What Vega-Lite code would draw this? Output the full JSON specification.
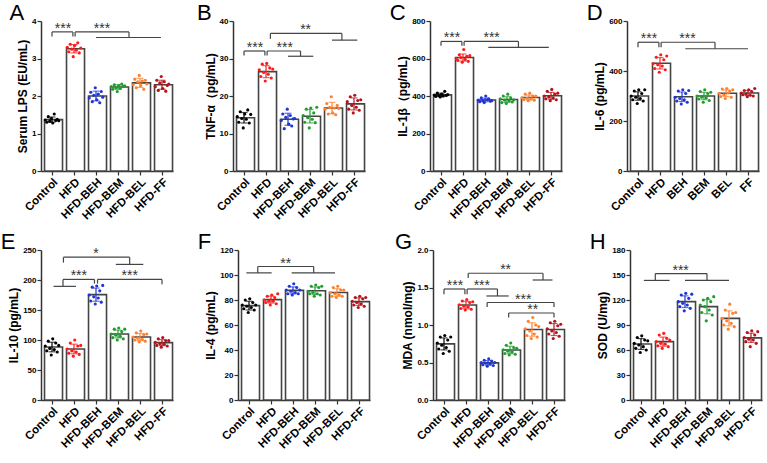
{
"$schema": "https://vega.github.io/schema/vega-lite/v6.json",
"padding": {"left": 0, "top": 2, "right": 2, "bottom": 2},
"spacing": 9,
"vconcat": [
{"hconcat": [
{"title": "A", "width": 132, "height": 150,
 "layer": [
  {"layer": [
   {"data": {"name": "summary"}, "transform": [{"filter": "datum.p=='A'"}], "mark": {"type": "bar", "fill": "#ffffff", "stroke": "#444444", "strokeWidth": 1.6},
    "encoding": {"x": {"field": "g", "type": "nominal", "sort": ["Control","HFD","HFD-BEH","HFD-BEM","HFD-BEL","HFD-FF"], "scale": {"paddingInner": 0.32, "paddingOuter": 0.16}, "axis": {"title": null}},
     "y": {"field": "m", "type": "quantitative", "title": "Serum LPS (EU/mL)", "scale": {"domain": [0, 4], "nice": false}, "axis": {"values": [0,1,2,3,4], "labelOverlap": false}}}},
   {"data": {"name": "points"}, "transform": [{"filter": "datum.p=='A'"}], "mark": {"type": "circle", "size": 10, "opacity": 1},
    "encoding": {"x": {"field": "g", "type": "nominal", "sort": ["Control","HFD","HFD-BEH","HFD-BEM","HFD-BEL","HFD-FF"]}, "xOffset": {"field": "i", "type": "ordinal"}, "y": {"field": "v", "type": "quantitative", "title": "Serum LPS (EU/mL)", "axis": {"values": [0,1,2,3,4], "labelOverlap": false}},
     "color": {"field": "g", "type": "nominal", "legend": null, "scale": {"domain": ["Control","HFD","HFD-BEH","HFD-BEM","HFD-BEL","HFD-FF","BEH","BEM","BEL","FF"], "range": ["#000000","#ff1a1a","#1f35d6","#1f9e2e","#ff8030","#b5121b","#1f35d6","#1f9e2e","#ff8030","#b5121b"]}}}},
   {"data": {"name": "summary"}, "transform": [{"filter": "datum.p=='A'"}], "mark": {"type": "errorbar", "ticks": {"size": 7}, "thickness": 1.2},
    "encoding": {"x": {"field": "g", "type": "nominal", "sort": ["Control","HFD","HFD-BEH","HFD-BEM","HFD-BEL","HFD-FF"]}, "y": {"field": "m", "type": "quantitative", "title": "Serum LPS (EU/mL)", "axis": {"values": [0,1,2,3,4], "labelOverlap": false}}, "yError": {"field": "sd"},
     "color": {"field": "g", "type": "nominal", "legend": null}}}
  ]},
  {"layer": [
   {"data": {"name": "brk"}, "transform": [{"filter": "datum.p=='A'"}], "mark": {"type": "rule", "color": "#444444", "strokeWidth": 1.2},
    "encoding": {"x": {"field": "x", "type": "quantitative", "scale": {"domain": [-0.5, 5.5], "nice": false, "zero": false}, "axis": null}, "x2": {"field": "x2"}, "y": {"field": "y", "type": "quantitative", "title": "Serum LPS (EU/mL)", "axis": {"values": [0,1,2,3,4], "labelOverlap": false}}, "y2": {"field": "y2"}}},
   {"data": {"name": "txt"}, "transform": [{"filter": "datum.p=='A'"}], "mark": {"type": "text", "fontSize": 14, "baseline": "alphabetic", "dy": 1, "color": "#333333"},
    "encoding": {"x": {"field": "x", "type": "quantitative", "scale": {"domain": [-0.5, 5.5], "nice": false, "zero": false}, "axis": null}, "y": {"field": "y", "type": "quantitative", "title": "Serum LPS (EU/mL)", "axis": {"values": [0,1,2,3,4], "labelOverlap": false}}, "text": {"field": "t"}}}
  ]}
 ],
 "resolve": {"scale": {"x": "independent"}}},
{"title": "B", "width": 132, "height": 150,
 "layer": [
  {"layer": [
   {"data": {"name": "summary"}, "transform": [{"filter": "datum.p=='B'"}], "mark": {"type": "bar", "fill": "#ffffff", "stroke": "#444444", "strokeWidth": 1.6},
    "encoding": {"x": {"field": "g", "type": "nominal", "sort": ["Control","HFD","HFD-BEH","HFD-BEM","HFD-BEL","HFD-FF"], "scale": {"paddingInner": 0.32, "paddingOuter": 0.16}, "axis": {"title": null}},
     "y": {"field": "m", "type": "quantitative", "title": "TNF-α（pg/mL)", "scale": {"domain": [0, 40], "nice": false}, "axis": {"values": [0,10,20,30,40], "labelOverlap": false}}}},
   {"data": {"name": "points"}, "transform": [{"filter": "datum.p=='B'"}], "mark": {"type": "circle", "size": 10, "opacity": 1},
    "encoding": {"x": {"field": "g", "type": "nominal", "sort": ["Control","HFD","HFD-BEH","HFD-BEM","HFD-BEL","HFD-FF"]}, "xOffset": {"field": "i", "type": "ordinal"}, "y": {"field": "v", "type": "quantitative", "title": "TNF-α（pg/mL)", "axis": {"values": [0,10,20,30,40], "labelOverlap": false}},
     "color": {"field": "g", "type": "nominal", "legend": null, "scale": {"domain": ["Control","HFD","HFD-BEH","HFD-BEM","HFD-BEL","HFD-FF","BEH","BEM","BEL","FF"], "range": ["#000000","#ff1a1a","#1f35d6","#1f9e2e","#ff8030","#b5121b","#1f35d6","#1f9e2e","#ff8030","#b5121b"]}}}},
   {"data": {"name": "summary"}, "transform": [{"filter": "datum.p=='B'"}], "mark": {"type": "errorbar", "ticks": {"size": 7}, "thickness": 1.2},
    "encoding": {"x": {"field": "g", "type": "nominal", "sort": ["Control","HFD","HFD-BEH","HFD-BEM","HFD-BEL","HFD-FF"]}, "y": {"field": "m", "type": "quantitative", "title": "TNF-α（pg/mL)", "axis": {"values": [0,10,20,30,40], "labelOverlap": false}}, "yError": {"field": "sd"},
     "color": {"field": "g", "type": "nominal", "legend": null}}}
  ]},
  {"layer": [
   {"data": {"name": "brk"}, "transform": [{"filter": "datum.p=='B'"}], "mark": {"type": "rule", "color": "#444444", "strokeWidth": 1.2},
    "encoding": {"x": {"field": "x", "type": "quantitative", "scale": {"domain": [-0.5, 5.5], "nice": false, "zero": false}, "axis": null}, "x2": {"field": "x2"}, "y": {"field": "y", "type": "quantitative", "title": "TNF-α（pg/mL)", "axis": {"values": [0,10,20,30,40], "labelOverlap": false}}, "y2": {"field": "y2"}}},
   {"data": {"name": "txt"}, "transform": [{"filter": "datum.p=='B'"}], "mark": {"type": "text", "fontSize": 14, "baseline": "alphabetic", "dy": 1, "color": "#333333"},
    "encoding": {"x": {"field": "x", "type": "quantitative", "scale": {"domain": [-0.5, 5.5], "nice": false, "zero": false}, "axis": null}, "y": {"field": "y", "type": "quantitative", "title": "TNF-α（pg/mL)", "axis": {"values": [0,10,20,30,40], "labelOverlap": false}}, "text": {"field": "t"}}}
  ]}
 ],
 "resolve": {"scale": {"x": "independent"}}},
{"title": "C", "width": 132, "height": 150,
 "layer": [
  {"layer": [
   {"data": {"name": "summary"}, "transform": [{"filter": "datum.p=='C'"}], "mark": {"type": "bar", "fill": "#ffffff", "stroke": "#444444", "strokeWidth": 1.6},
    "encoding": {"x": {"field": "g", "type": "nominal", "sort": ["Control","HFD","HFD-BEH","HFD-BEM","HFD-BEL","HFD-FF"], "scale": {"paddingInner": 0.32, "paddingOuter": 0.16}, "axis": {"title": null}},
     "y": {"field": "m", "type": "quantitative", "title": "IL-1β（pg/mL)", "scale": {"domain": [0, 800], "nice": false}, "axis": {"values": [0,200,400,600,800], "labelOverlap": false}}}},
   {"data": {"name": "points"}, "transform": [{"filter": "datum.p=='C'"}], "mark": {"type": "circle", "size": 10, "opacity": 1},
    "encoding": {"x": {"field": "g", "type": "nominal", "sort": ["Control","HFD","HFD-BEH","HFD-BEM","HFD-BEL","HFD-FF"]}, "xOffset": {"field": "i", "type": "ordinal"}, "y": {"field": "v", "type": "quantitative", "title": "IL-1β（pg/mL)", "axis": {"values": [0,200,400,600,800], "labelOverlap": false}},
     "color": {"field": "g", "type": "nominal", "legend": null, "scale": {"domain": ["Control","HFD","HFD-BEH","HFD-BEM","HFD-BEL","HFD-FF","BEH","BEM","BEL","FF"], "range": ["#000000","#ff1a1a","#1f35d6","#1f9e2e","#ff8030","#b5121b","#1f35d6","#1f9e2e","#ff8030","#b5121b"]}}}},
   {"data": {"name": "summary"}, "transform": [{"filter": "datum.p=='C'"}], "mark": {"type": "errorbar", "ticks": {"size": 7}, "thickness": 1.2},
    "encoding": {"x": {"field": "g", "type": "nominal", "sort": ["Control","HFD","HFD-BEH","HFD-BEM","HFD-BEL","HFD-FF"]}, "y": {"field": "m", "type": "quantitative", "title": "IL-1β（pg/mL)", "axis": {"values": [0,200,400,600,800], "labelOverlap": false}}, "yError": {"field": "sd"},
     "color": {"field": "g", "type": "nominal", "legend": null}}}
  ]},
  {"layer": [
   {"data": {"name": "brk"}, "transform": [{"filter": "datum.p=='C'"}], "mark": {"type": "rule", "color": "#444444", "strokeWidth": 1.2},
    "encoding": {"x": {"field": "x", "type": "quantitative", "scale": {"domain": [-0.5, 5.5], "nice": false, "zero": false}, "axis": null}, "x2": {"field": "x2"}, "y": {"field": "y", "type": "quantitative", "title": "IL-1β（pg/mL)", "axis": {"values": [0,200,400,600,800], "labelOverlap": false}}, "y2": {"field": "y2"}}},
   {"data": {"name": "txt"}, "transform": [{"filter": "datum.p=='C'"}], "mark": {"type": "text", "fontSize": 14, "baseline": "alphabetic", "dy": 1, "color": "#333333"},
    "encoding": {"x": {"field": "x", "type": "quantitative", "scale": {"domain": [-0.5, 5.5], "nice": false, "zero": false}, "axis": null}, "y": {"field": "y", "type": "quantitative", "title": "IL-1β（pg/mL)", "axis": {"values": [0,200,400,600,800], "labelOverlap": false}}, "text": {"field": "t"}}}
  ]}
 ],
 "resolve": {"scale": {"x": "independent"}}},
{"title": "D", "width": 132, "height": 150,
 "layer": [
  {"layer": [
   {"data": {"name": "summary"}, "transform": [{"filter": "datum.p=='D'"}], "mark": {"type": "bar", "fill": "#ffffff", "stroke": "#444444", "strokeWidth": 1.6},
    "encoding": {"x": {"field": "g", "type": "nominal", "sort": ["Control","HFD","BEH","BEM","BEL","FF"], "scale": {"paddingInner": 0.32, "paddingOuter": 0.16}, "axis": {"title": null}},
     "y": {"field": "m", "type": "quantitative", "title": "IL-6 (pg/mL)", "scale": {"domain": [0, 600], "nice": false}, "axis": {"values": [0,200,400,600], "labelOverlap": false}}}},
   {"data": {"name": "points"}, "transform": [{"filter": "datum.p=='D'"}], "mark": {"type": "circle", "size": 10, "opacity": 1},
    "encoding": {"x": {"field": "g", "type": "nominal", "sort": ["Control","HFD","BEH","BEM","BEL","FF"]}, "xOffset": {"field": "i", "type": "ordinal"}, "y": {"field": "v", "type": "quantitative", "title": "IL-6 (pg/mL)", "axis": {"values": [0,200,400,600], "labelOverlap": false}},
     "color": {"field": "g", "type": "nominal", "legend": null, "scale": {"domain": ["Control","HFD","HFD-BEH","HFD-BEM","HFD-BEL","HFD-FF","BEH","BEM","BEL","FF"], "range": ["#000000","#ff1a1a","#1f35d6","#1f9e2e","#ff8030","#b5121b","#1f35d6","#1f9e2e","#ff8030","#b5121b"]}}}},
   {"data": {"name": "summary"}, "transform": [{"filter": "datum.p=='D'"}], "mark": {"type": "errorbar", "ticks": {"size": 7}, "thickness": 1.2},
    "encoding": {"x": {"field": "g", "type": "nominal", "sort": ["Control","HFD","BEH","BEM","BEL","FF"]}, "y": {"field": "m", "type": "quantitative", "title": "IL-6 (pg/mL)", "axis": {"values": [0,200,400,600], "labelOverlap": false}}, "yError": {"field": "sd"},
     "color": {"field": "g", "type": "nominal", "legend": null}}}
  ]},
  {"layer": [
   {"data": {"name": "brk"}, "transform": [{"filter": "datum.p=='D'"}], "mark": {"type": "rule", "color": "#444444", "strokeWidth": 1.2},
    "encoding": {"x": {"field": "x", "type": "quantitative", "scale": {"domain": [-0.5, 5.5], "nice": false, "zero": false}, "axis": null}, "x2": {"field": "x2"}, "y": {"field": "y", "type": "quantitative", "title": "IL-6 (pg/mL)", "axis": {"values": [0,200,400,600], "labelOverlap": false}}, "y2": {"field": "y2"}}},
   {"data": {"name": "txt"}, "transform": [{"filter": "datum.p=='D'"}], "mark": {"type": "text", "fontSize": 14, "baseline": "alphabetic", "dy": 1, "color": "#333333"},
    "encoding": {"x": {"field": "x", "type": "quantitative", "scale": {"domain": [-0.5, 5.5], "nice": false, "zero": false}, "axis": null}, "y": {"field": "y", "type": "quantitative", "title": "IL-6 (pg/mL)", "axis": {"values": [0,200,400,600], "labelOverlap": false}}, "text": {"field": "t"}}}
  ]}
 ],
 "resolve": {"scale": {"x": "independent"}}}
], "spacing": 23},
{"hconcat": [
{"title": "E", "width": 132, "height": 150,
 "layer": [
  {"layer": [
   {"data": {"name": "summary"}, "transform": [{"filter": "datum.p=='E'"}], "mark": {"type": "bar", "fill": "#ffffff", "stroke": "#444444", "strokeWidth": 1.6},
    "encoding": {"x": {"field": "g", "type": "nominal", "sort": ["Control","HFD","HFD-BEH","HFD-BEM","HFD-BEL","HFD-FF"], "scale": {"paddingInner": 0.32, "paddingOuter": 0.16}, "axis": {"title": null}},
     "y": {"field": "m", "type": "quantitative", "title": "IL-10 (pg/mL)", "scale": {"domain": [0, 250], "nice": false}, "axis": {"values": [0,50,100,150,200,250], "labelOverlap": false}}}},
   {"data": {"name": "points"}, "transform": [{"filter": "datum.p=='E'"}], "mark": {"type": "circle", "size": 10, "opacity": 1},
    "encoding": {"x": {"field": "g", "type": "nominal", "sort": ["Control","HFD","HFD-BEH","HFD-BEM","HFD-BEL","HFD-FF"]}, "xOffset": {"field": "i", "type": "ordinal"}, "y": {"field": "v", "type": "quantitative", "title": "IL-10 (pg/mL)", "axis": {"values": [0,50,100,150,200,250], "labelOverlap": false}},
     "color": {"field": "g", "type": "nominal", "legend": null, "scale": {"domain": ["Control","HFD","HFD-BEH","HFD-BEM","HFD-BEL","HFD-FF","BEH","BEM","BEL","FF"], "range": ["#000000","#ff1a1a","#1f35d6","#1f9e2e","#ff8030","#b5121b","#1f35d6","#1f9e2e","#ff8030","#b5121b"]}}}},
   {"data": {"name": "summary"}, "transform": [{"filter": "datum.p=='E'"}], "mark": {"type": "errorbar", "ticks": {"size": 7}, "thickness": 1.2},
    "encoding": {"x": {"field": "g", "type": "nominal", "sort": ["Control","HFD","HFD-BEH","HFD-BEM","HFD-BEL","HFD-FF"]}, "y": {"field": "m", "type": "quantitative", "title": "IL-10 (pg/mL)", "axis": {"values": [0,50,100,150,200,250], "labelOverlap": false}}, "yError": {"field": "sd"},
     "color": {"field": "g", "type": "nominal", "legend": null}}}
  ]},
  {"layer": [
   {"data": {"name": "brk"}, "transform": [{"filter": "datum.p=='E'"}], "mark": {"type": "rule", "color": "#444444", "strokeWidth": 1.2},
    "encoding": {"x": {"field": "x", "type": "quantitative", "scale": {"domain": [-0.5, 5.5], "nice": false, "zero": false}, "axis": null}, "x2": {"field": "x2"}, "y": {"field": "y", "type": "quantitative", "title": "IL-10 (pg/mL)", "axis": {"values": [0,50,100,150,200,250], "labelOverlap": false}}, "y2": {"field": "y2"}}},
   {"data": {"name": "txt"}, "transform": [{"filter": "datum.p=='E'"}], "mark": {"type": "text", "fontSize": 14, "baseline": "alphabetic", "dy": 1, "color": "#333333"},
    "encoding": {"x": {"field": "x", "type": "quantitative", "scale": {"domain": [-0.5, 5.5], "nice": false, "zero": false}, "axis": null}, "y": {"field": "y", "type": "quantitative", "title": "IL-10 (pg/mL)", "axis": {"values": [0,50,100,150,200,250], "labelOverlap": false}}, "text": {"field": "t"}}}
  ]}
 ],
 "resolve": {"scale": {"x": "independent"}}},
{"title": "F", "width": 132, "height": 150,
 "layer": [
  {"layer": [
   {"data": {"name": "summary"}, "transform": [{"filter": "datum.p=='F'"}], "mark": {"type": "bar", "fill": "#ffffff", "stroke": "#444444", "strokeWidth": 1.6},
    "encoding": {"x": {"field": "g", "type": "nominal", "sort": ["Control","HFD","HFD-BEH","HFD-BEM","HFD-BEL","HFD-FF"], "scale": {"paddingInner": 0.32, "paddingOuter": 0.16}, "axis": {"title": null}},
     "y": {"field": "m", "type": "quantitative", "title": "IL-4 (pg/mL)", "scale": {"domain": [0, 120], "nice": false}, "axis": {"values": [0,20,40,60,80,100,120], "labelOverlap": false}}}},
   {"data": {"name": "points"}, "transform": [{"filter": "datum.p=='F'"}], "mark": {"type": "circle", "size": 10, "opacity": 1},
    "encoding": {"x": {"field": "g", "type": "nominal", "sort": ["Control","HFD","HFD-BEH","HFD-BEM","HFD-BEL","HFD-FF"]}, "xOffset": {"field": "i", "type": "ordinal"}, "y": {"field": "v", "type": "quantitative", "title": "IL-4 (pg/mL)", "axis": {"values": [0,20,40,60,80,100,120], "labelOverlap": false}},
     "color": {"field": "g", "type": "nominal", "legend": null, "scale": {"domain": ["Control","HFD","HFD-BEH","HFD-BEM","HFD-BEL","HFD-FF","BEH","BEM","BEL","FF"], "range": ["#000000","#ff1a1a","#1f35d6","#1f9e2e","#ff8030","#b5121b","#1f35d6","#1f9e2e","#ff8030","#b5121b"]}}}},
   {"data": {"name": "summary"}, "transform": [{"filter": "datum.p=='F'"}], "mark": {"type": "errorbar", "ticks": {"size": 7}, "thickness": 1.2},
    "encoding": {"x": {"field": "g", "type": "nominal", "sort": ["Control","HFD","HFD-BEH","HFD-BEM","HFD-BEL","HFD-FF"]}, "y": {"field": "m", "type": "quantitative", "title": "IL-4 (pg/mL)", "axis": {"values": [0,20,40,60,80,100,120], "labelOverlap": false}}, "yError": {"field": "sd"},
     "color": {"field": "g", "type": "nominal", "legend": null}}}
  ]},
  {"layer": [
   {"data": {"name": "brk"}, "transform": [{"filter": "datum.p=='F'"}], "mark": {"type": "rule", "color": "#444444", "strokeWidth": 1.2},
    "encoding": {"x": {"field": "x", "type": "quantitative", "scale": {"domain": [-0.5, 5.5], "nice": false, "zero": false}, "axis": null}, "x2": {"field": "x2"}, "y": {"field": "y", "type": "quantitative", "title": "IL-4 (pg/mL)", "axis": {"values": [0,20,40,60,80,100,120], "labelOverlap": false}}, "y2": {"field": "y2"}}},
   {"data": {"name": "txt"}, "transform": [{"filter": "datum.p=='F'"}], "mark": {"type": "text", "fontSize": 14, "baseline": "alphabetic", "dy": 1, "color": "#333333"},
    "encoding": {"x": {"field": "x", "type": "quantitative", "scale": {"domain": [-0.5, 5.5], "nice": false, "zero": false}, "axis": null}, "y": {"field": "y", "type": "quantitative", "title": "IL-4 (pg/mL)", "axis": {"values": [0,20,40,60,80,100,120], "labelOverlap": false}}, "text": {"field": "t"}}}
  ]}
 ],
 "resolve": {"scale": {"x": "independent"}}},
{"title": "G", "width": 132, "height": 150,
 "layer": [
  {"layer": [
   {"data": {"name": "summary"}, "transform": [{"filter": "datum.p=='G'"}], "mark": {"type": "bar", "fill": "#ffffff", "stroke": "#444444", "strokeWidth": 1.6},
    "encoding": {"x": {"field": "g", "type": "nominal", "sort": ["Control","HFD","HFD-BEH","HFD-BEM","HFD-BEL","HFD-FF"], "scale": {"paddingInner": 0.32, "paddingOuter": 0.16}, "axis": {"title": null}},
     "y": {"field": "m", "type": "quantitative", "title": "MDA (nmol/mg)", "scale": {"domain": [0, 2], "nice": false}, "axis": {"values": [0,0.5,1,1.5,2], "format": ".1f", "labelOverlap": false}}}},
   {"data": {"name": "points"}, "transform": [{"filter": "datum.p=='G'"}], "mark": {"type": "circle", "size": 10, "opacity": 1},
    "encoding": {"x": {"field": "g", "type": "nominal", "sort": ["Control","HFD","HFD-BEH","HFD-BEM","HFD-BEL","HFD-FF"]}, "xOffset": {"field": "i", "type": "ordinal"}, "y": {"field": "v", "type": "quantitative", "title": "MDA (nmol/mg)", "axis": {"values": [0,0.5,1,1.5,2], "format": ".1f", "labelOverlap": false}},
     "color": {"field": "g", "type": "nominal", "legend": null, "scale": {"domain": ["Control","HFD","HFD-BEH","HFD-BEM","HFD-BEL","HFD-FF","BEH","BEM","BEL","FF"], "range": ["#000000","#ff1a1a","#1f35d6","#1f9e2e","#ff8030","#b5121b","#1f35d6","#1f9e2e","#ff8030","#b5121b"]}}}},
   {"data": {"name": "summary"}, "transform": [{"filter": "datum.p=='G'"}], "mark": {"type": "errorbar", "ticks": {"size": 7}, "thickness": 1.2},
    "encoding": {"x": {"field": "g", "type": "nominal", "sort": ["Control","HFD","HFD-BEH","HFD-BEM","HFD-BEL","HFD-FF"]}, "y": {"field": "m", "type": "quantitative", "title": "MDA (nmol/mg)", "axis": {"values": [0,0.5,1,1.5,2], "format": ".1f", "labelOverlap": false}}, "yError": {"field": "sd"},
     "color": {"field": "g", "type": "nominal", "legend": null}}}
  ]},
  {"layer": [
   {"data": {"name": "brk"}, "transform": [{"filter": "datum.p=='G'"}], "mark": {"type": "rule", "color": "#444444", "strokeWidth": 1.2},
    "encoding": {"x": {"field": "x", "type": "quantitative", "scale": {"domain": [-0.5, 5.5], "nice": false, "zero": false}, "axis": null}, "x2": {"field": "x2"}, "y": {"field": "y", "type": "quantitative", "title": "MDA (nmol/mg)", "axis": {"values": [0,0.5,1,1.5,2], "format": ".1f", "labelOverlap": false}}, "y2": {"field": "y2"}}},
   {"data": {"name": "txt"}, "transform": [{"filter": "datum.p=='G'"}], "mark": {"type": "text", "fontSize": 14, "baseline": "alphabetic", "dy": 1, "color": "#333333"},
    "encoding": {"x": {"field": "x", "type": "quantitative", "scale": {"domain": [-0.5, 5.5], "nice": false, "zero": false}, "axis": null}, "y": {"field": "y", "type": "quantitative", "title": "MDA (nmol/mg)", "axis": {"values": [0,0.5,1,1.5,2], "format": ".1f", "labelOverlap": false}}, "text": {"field": "t"}}}
  ]}
 ],
 "resolve": {"scale": {"x": "independent"}}},
{"title": "H", "width": 132, "height": 150,
 "layer": [
  {"layer": [
   {"data": {"name": "summary"}, "transform": [{"filter": "datum.p=='H'"}], "mark": {"type": "bar", "fill": "#ffffff", "stroke": "#444444", "strokeWidth": 1.6},
    "encoding": {"x": {"field": "g", "type": "nominal", "sort": ["Control","HFD","HFD-BEH","HFD-BEM","HFD-BEL","HFD-FF"], "scale": {"paddingInner": 0.32, "paddingOuter": 0.16}, "axis": {"title": null}},
     "y": {"field": "m", "type": "quantitative", "title": "SOD (U/mg)", "scale": {"domain": [0, 180], "nice": false}, "axis": {"values": [0,30,60,90,120,150,180], "labelOverlap": false}}}},
   {"data": {"name": "points"}, "transform": [{"filter": "datum.p=='H'"}], "mark": {"type": "circle", "size": 10, "opacity": 1},
    "encoding": {"x": {"field": "g", "type": "nominal", "sort": ["Control","HFD","HFD-BEH","HFD-BEM","HFD-BEL","HFD-FF"]}, "xOffset": {"field": "i", "type": "ordinal"}, "y": {"field": "v", "type": "quantitative", "title": "SOD (U/mg)", "axis": {"values": [0,30,60,90,120,150,180], "labelOverlap": false}},
     "color": {"field": "g", "type": "nominal", "legend": null, "scale": {"domain": ["Control","HFD","HFD-BEH","HFD-BEM","HFD-BEL","HFD-FF","BEH","BEM","BEL","FF"], "range": ["#000000","#ff1a1a","#1f35d6","#1f9e2e","#ff8030","#b5121b","#1f35d6","#1f9e2e","#ff8030","#b5121b"]}}}},
   {"data": {"name": "summary"}, "transform": [{"filter": "datum.p=='H'"}], "mark": {"type": "errorbar", "ticks": {"size": 7}, "thickness": 1.2},
    "encoding": {"x": {"field": "g", "type": "nominal", "sort": ["Control","HFD","HFD-BEH","HFD-BEM","HFD-BEL","HFD-FF"]}, "y": {"field": "m", "type": "quantitative", "title": "SOD (U/mg)", "axis": {"values": [0,30,60,90,120,150,180], "labelOverlap": false}}, "yError": {"field": "sd"},
     "color": {"field": "g", "type": "nominal", "legend": null}}}
  ]},
  {"layer": [
   {"data": {"name": "brk"}, "transform": [{"filter": "datum.p=='H'"}], "mark": {"type": "rule", "color": "#444444", "strokeWidth": 1.2},
    "encoding": {"x": {"field": "x", "type": "quantitative", "scale": {"domain": [-0.5, 5.5], "nice": false, "zero": false}, "axis": null}, "x2": {"field": "x2"}, "y": {"field": "y", "type": "quantitative", "title": "SOD (U/mg)", "axis": {"values": [0,30,60,90,120,150,180], "labelOverlap": false}}, "y2": {"field": "y2"}}},
   {"data": {"name": "txt"}, "transform": [{"filter": "datum.p=='H'"}], "mark": {"type": "text", "fontSize": 14, "baseline": "alphabetic", "dy": 1, "color": "#333333"},
    "encoding": {"x": {"field": "x", "type": "quantitative", "scale": {"domain": [-0.5, 5.5], "nice": false, "zero": false}, "axis": null}, "y": {"field": "y", "type": "quantitative", "title": "SOD (U/mg)", "axis": {"values": [0,30,60,90,120,150,180], "labelOverlap": false}}, "text": {"field": "t"}}}
  ]}
 ],
 "resolve": {"scale": {"x": "independent"}}}
], "spacing": 23}
],
"datasets": {
"summary": [
{"p":"A","g":"Control","m":1.37,"sd":0.07},{"p":"A","g":"HFD","m":3.26,"sd":0.11},{"p":"A","g":"HFD-BEH","m":2.0,"sd":0.13},{"p":"A","g":"HFD-BEM","m":2.24,"sd":0.06},{"p":"A","g":"HFD-BEL","m":2.35,"sd":0.12},{"p":"A","g":"HFD-FF","m":2.3,"sd":0.12},
{"p":"B","g":"Control","m":14.2,"sd":1.4},{"p":"B","g":"HFD","m":26.5,"sd":1.6},{"p":"B","g":"HFD-BEH","m":13.8,"sd":1.6},{"p":"B","g":"HFD-BEM","m":14.6,"sd":1.8},{"p":"B","g":"HFD-BEL","m":16.8,"sd":1.5},{"p":"B","g":"HFD-FF","m":17.9,"sd":1.6},
{"p":"C","g":"Control","m":406,"sd":9},{"p":"C","g":"HFD","m":605,"sd":19},{"p":"C","g":"HFD-BEH","m":379,"sd":10},{"p":"C","g":"HFD-BEM","m":381,"sd":15},{"p":"C","g":"HFD-BEL","m":392,"sd":13},{"p":"C","g":"HFD-FF","m":401,"sd":18},
{"p":"D","g":"Control","m":300,"sd":17},{"p":"D","g":"HFD","m":431,"sd":23},{"p":"D","g":"BEH","m":297,"sd":19},{"p":"D","g":"BEM","m":300,"sd":15},{"p":"D","g":"BEL","m":311,"sd":13},{"p":"D","g":"FF","m":312,"sd":10},
{"p":"E","g":"Control","m":88.3,"sd":8},{"p":"E","g":"HFD","m":85,"sd":8},{"p":"E","g":"HFD-BEH","m":175.6,"sd":11},{"p":"E","g":"HFD-BEM","m":110,"sd":6.5},{"p":"E","g":"HFD-BEL","m":105,"sd":6},{"p":"E","g":"HFD-FF","m":95.6,"sd":5},
{"p":"F","g":"Control","m":75.5,"sd":3.5},{"p":"F","g":"HFD","m":80.3,"sd":2.8},{"p":"F","g":"HFD-BEH","m":87.7,"sd":2.8},{"p":"F","g":"HFD-BEM","m":87.4,"sd":3},{"p":"F","g":"HFD-BEL","m":86,"sd":3},{"p":"F","g":"HFD-FF","m":78.7,"sd":3},
{"p":"G","g":"Control","m":0.748,"sd":0.08},{"p":"G","g":"HFD","m":1.266,"sd":0.05},{"p":"G","g":"HFD-BEH","m":0.495,"sd":0.03},{"p":"G","g":"HFD-BEM","m":0.667,"sd":0.05},{"p":"G","g":"HFD-BEL","m":0.94,"sd":0.09},{"p":"G","g":"HFD-FF","m":0.94,"sd":0.08},
{"p":"H","g":"Control","m":67.2,"sd":6.5},{"p":"H","g":"HFD","m":70,"sd":5.5},{"p":"H","g":"HFD-BEH","m":118,"sd":7},{"p":"H","g":"HFD-BEM","m":112,"sd":8.5},{"p":"H","g":"HFD-BEL","m":98,"sd":9},{"p":"H","g":"HFD-FF","m":74.6,"sd":5.5}
],
"points": [
{"p":"A","g":"Control","i":1,"v":1.36},{"p":"A","g":"Control","i":2,"v":1.30},{"p":"A","g":"Control","i":3,"v":1.45},{"p":"A","g":"Control","i":4,"v":1.33},{"p":"A","g":"Control","i":5,"v":1.40},{"p":"A","g":"Control","i":6,"v":1.28},{"p":"A","g":"Control","i":7,"v":1.52},{"p":"A","g":"Control","i":8,"v":1.35},{"p":"A","g":"Control","i":9,"v":1.38},{"p":"A","g":"Control","i":10,"v":1.34},
{"p":"A","g":"HFD","i":1,"v":3.30},{"p":"A","g":"HFD","i":2,"v":3.18},{"p":"A","g":"HFD","i":3,"v":3.38},{"p":"A","g":"HFD","i":4,"v":3.25},{"p":"A","g":"HFD","i":5,"v":3.05},{"p":"A","g":"HFD","i":6,"v":3.35},{"p":"A","g":"HFD","i":7,"v":3.22},{"p":"A","g":"HFD","i":8,"v":3.42},{"p":"A","g":"HFD","i":9,"v":3.15},{"p":"A","g":"HFD","i":10,"v":3.28},
{"p":"A","g":"HFD-BEH","i":1,"v":1.95},{"p":"A","g":"HFD-BEH","i":2,"v":2.10},{"p":"A","g":"HFD-BEH","i":3,"v":1.85},{"p":"A","g":"HFD-BEH","i":4,"v":2.02},{"p":"A","g":"HFD-BEH","i":5,"v":2.22},{"p":"A","g":"HFD-BEH","i":6,"v":1.90},{"p":"A","g":"HFD-BEH","i":7,"v":2.05},{"p":"A","g":"HFD-BEH","i":8,"v":1.82},{"p":"A","g":"HFD-BEH","i":9,"v":2.12},{"p":"A","g":"HFD-BEH","i":10,"v":1.97},
{"p":"A","g":"HFD-BEM","i":1,"v":2.25},{"p":"A","g":"HFD-BEM","i":2,"v":2.18},{"p":"A","g":"HFD-BEM","i":3,"v":2.30},{"p":"A","g":"HFD-BEM","i":4,"v":2.22},{"p":"A","g":"HFD-BEM","i":5,"v":2.12},{"p":"A","g":"HFD-BEM","i":6,"v":2.28},{"p":"A","g":"HFD-BEM","i":7,"v":2.20},{"p":"A","g":"HFD-BEM","i":8,"v":2.32},{"p":"A","g":"HFD-BEM","i":9,"v":2.26},{"p":"A","g":"HFD-BEM","i":10,"v":2.27},
{"p":"A","g":"HFD-BEL","i":1,"v":2.30},{"p":"A","g":"HFD-BEL","i":2,"v":2.45},{"p":"A","g":"HFD-BEL","i":3,"v":2.22},{"p":"A","g":"HFD-BEL","i":4,"v":2.38},{"p":"A","g":"HFD-BEL","i":5,"v":2.55},{"p":"A","g":"HFD-BEL","i":6,"v":2.28},{"p":"A","g":"HFD-BEL","i":7,"v":2.40},{"p":"A","g":"HFD-BEL","i":8,"v":2.18},{"p":"A","g":"HFD-BEL","i":9,"v":2.42},{"p":"A","g":"HFD-BEL","i":10,"v":2.32},
{"p":"A","g":"HFD-FF","i":1,"v":2.25},{"p":"A","g":"HFD-FF","i":2,"v":2.42},{"p":"A","g":"HFD-FF","i":3,"v":2.15},{"p":"A","g":"HFD-FF","i":4,"v":2.35},{"p":"A","g":"HFD-FF","i":5,"v":2.52},{"p":"A","g":"HFD-FF","i":6,"v":2.20},{"p":"A","g":"HFD-FF","i":7,"v":2.38},{"p":"A","g":"HFD-FF","i":8,"v":2.13},{"p":"A","g":"HFD-FF","i":9,"v":2.28},{"p":"A","g":"HFD-FF","i":10,"v":2.32},
{"p":"B","g":"Control","i":1,"v":14.5},{"p":"B","g":"Control","i":2,"v":13.0},{"p":"B","g":"Control","i":3,"v":15.8},{"p":"B","g":"Control","i":4,"v":14.0},{"p":"B","g":"Control","i":5,"v":11.5},{"p":"B","g":"Control","i":6,"v":15.2},{"p":"B","g":"Control","i":7,"v":13.8},{"p":"B","g":"Control","i":8,"v":16.3},{"p":"B","g":"Control","i":9,"v":12.8},{"p":"B","g":"Control","i":10,"v":15.1},
{"p":"B","g":"HFD","i":1,"v":27.0},{"p":"B","g":"HFD","i":2,"v":25.2},{"p":"B","g":"HFD","i":3,"v":28.5},{"p":"B","g":"HFD","i":4,"v":26.3},{"p":"B","g":"HFD","i":5,"v":24.0},{"p":"B","g":"HFD","i":6,"v":28.7},{"p":"B","g":"HFD","i":7,"v":25.8},{"p":"B","g":"HFD","i":8,"v":27.5},{"p":"B","g":"HFD","i":9,"v":24.8},{"p":"B","g":"HFD","i":10,"v":27.2},
{"p":"B","g":"HFD-BEH","i":1,"v":13.5},{"p":"B","g":"HFD-BEH","i":2,"v":15.2},{"p":"B","g":"HFD-BEH","i":3,"v":11.3},{"p":"B","g":"HFD-BEH","i":4,"v":14.3},{"p":"B","g":"HFD-BEH","i":5,"v":16.5},{"p":"B","g":"HFD-BEH","i":6,"v":12.5},{"p":"B","g":"HFD-BEH","i":7,"v":14.8},{"p":"B","g":"HFD-BEH","i":8,"v":12.0},{"p":"B","g":"HFD-BEH","i":9,"v":13.9},{"p":"B","g":"HFD-BEH","i":10,"v":14.0},
{"p":"B","g":"HFD-BEM","i":1,"v":14.8},{"p":"B","g":"HFD-BEM","i":2,"v":13.0},{"p":"B","g":"HFD-BEM","i":3,"v":16.5},{"p":"B","g":"HFD-BEM","i":4,"v":14.2},{"p":"B","g":"HFD-BEM","i":5,"v":11.5},{"p":"B","g":"HFD-BEM","i":6,"v":16.8},{"p":"B","g":"HFD-BEM","i":7,"v":13.8},{"p":"B","g":"HFD-BEM","i":8,"v":15.5},{"p":"B","g":"HFD-BEM","i":9,"v":12.9},{"p":"B","g":"HFD-BEM","i":10,"v":17.0},
{"p":"B","g":"HFD-BEL","i":1,"v":16.5},{"p":"B","g":"HFD-BEL","i":2,"v":18.0},{"p":"B","g":"HFD-BEL","i":3,"v":15.2},{"p":"B","g":"HFD-BEL","i":4,"v":17.0},{"p":"B","g":"HFD-BEL","i":5,"v":19.8},{"p":"B","g":"HFD-BEL","i":6,"v":15.5},{"p":"B","g":"HFD-BEL","i":7,"v":16.8},{"p":"B","g":"HFD-BEL","i":8,"v":15.0},{"p":"B","g":"HFD-BEL","i":9,"v":17.5},{"p":"B","g":"HFD-BEL","i":10,"v":16.7},
{"p":"B","g":"HFD-FF","i":1,"v":18.5},{"p":"B","g":"HFD-FF","i":2,"v":16.5},{"p":"B","g":"HFD-FF","i":3,"v":19.8},{"p":"B","g":"HFD-FF","i":4,"v":17.5},{"p":"B","g":"HFD-FF","i":5,"v":15.5},{"p":"B","g":"HFD-FF","i":6,"v":20.2},{"p":"B","g":"HFD-FF","i":7,"v":17.0},{"p":"B","g":"HFD-FF","i":8,"v":18.8},{"p":"B","g":"HFD-FF","i":9,"v":16.2},{"p":"B","g":"HFD-FF","i":10,"v":19.0},
{"p":"C","g":"Control","i":1,"v":405},{"p":"C","g":"Control","i":2,"v":398},{"p":"C","g":"Control","i":3,"v":415},{"p":"C","g":"Control","i":4,"v":402},{"p":"C","g":"Control","i":5,"v":395},{"p":"C","g":"Control","i":6,"v":410},{"p":"C","g":"Control","i":7,"v":400},{"p":"C","g":"Control","i":8,"v":425},{"p":"C","g":"Control","i":9,"v":403},{"p":"C","g":"Control","i":10,"v":407},
{"p":"C","g":"HFD","i":1,"v":600},{"p":"C","g":"HFD","i":2,"v":590},{"p":"C","g":"HFD","i":3,"v":620},{"p":"C","g":"HFD","i":4,"v":605},{"p":"C","g":"HFD","i":5,"v":580},{"p":"C","g":"HFD","i":6,"v":648},{"p":"C","g":"HFD","i":7,"v":595},{"p":"C","g":"HFD","i":8,"v":612},{"p":"C","g":"HFD","i":9,"v":585},{"p":"C","g":"HFD","i":10,"v":615},
{"p":"C","g":"HFD-BEH","i":1,"v":378},{"p":"C","g":"HFD-BEH","i":2,"v":370},{"p":"C","g":"HFD-BEH","i":3,"v":390},{"p":"C","g":"HFD-BEH","i":4,"v":375},{"p":"C","g":"HFD-BEH","i":5,"v":365},{"p":"C","g":"HFD-BEH","i":6,"v":400},{"p":"C","g":"HFD-BEH","i":7,"v":380},{"p":"C","g":"HFD-BEH","i":8,"v":385},{"p":"C","g":"HFD-BEH","i":9,"v":372},{"p":"C","g":"HFD-BEH","i":10,"v":375},
{"p":"C","g":"HFD-BEM","i":1,"v":385},{"p":"C","g":"HFD-BEM","i":2,"v":365},{"p":"C","g":"HFD-BEM","i":3,"v":400},{"p":"C","g":"HFD-BEM","i":4,"v":378},{"p":"C","g":"HFD-BEM","i":5,"v":360},{"p":"C","g":"HFD-BEM","i":6,"v":410},{"p":"C","g":"HFD-BEM","i":7,"v":375},{"p":"C","g":"HFD-BEM","i":8,"v":390},{"p":"C","g":"HFD-BEM","i":9,"v":368},{"p":"C","g":"HFD-BEM","i":10,"v":379},
{"p":"C","g":"HFD-BEL","i":1,"v":390},{"p":"C","g":"HFD-BEL","i":2,"v":380},{"p":"C","g":"HFD-BEL","i":3,"v":410},{"p":"C","g":"HFD-BEL","i":4,"v":388},{"p":"C","g":"HFD-BEL","i":5,"v":375},{"p":"C","g":"HFD-BEL","i":6,"v":415},{"p":"C","g":"HFD-BEL","i":7,"v":385},{"p":"C","g":"HFD-BEL","i":8,"v":400},{"p":"C","g":"HFD-BEL","i":9,"v":378},{"p":"C","g":"HFD-BEL","i":10,"v":399},
{"p":"C","g":"HFD-FF","i":1,"v":400},{"p":"C","g":"HFD-FF","i":2,"v":385},{"p":"C","g":"HFD-FF","i":3,"v":425},{"p":"C","g":"HFD-FF","i":4,"v":395},{"p":"C","g":"HFD-FF","i":5,"v":375},{"p":"C","g":"HFD-FF","i":6,"v":435},{"p":"C","g":"HFD-FF","i":7,"v":390},{"p":"C","g":"HFD-FF","i":8,"v":410},{"p":"C","g":"HFD-FF","i":9,"v":380},{"p":"C","g":"HFD-FF","i":10,"v":415},
{"p":"D","g":"Control","i":1,"v":300},{"p":"D","g":"Control","i":2,"v":285},{"p":"D","g":"Control","i":3,"v":320},{"p":"D","g":"Control","i":4,"v":295},{"p":"D","g":"Control","i":5,"v":270},{"p":"D","g":"Control","i":6,"v":325},{"p":"D","g":"Control","i":7,"v":290},{"p":"D","g":"Control","i":8,"v":310},{"p":"D","g":"Control","i":9,"v":280},{"p":"D","g":"Control","i":10,"v":325},
{"p":"D","g":"HFD","i":1,"v":430},{"p":"D","g":"HFD","i":2,"v":410},{"p":"D","g":"HFD","i":3,"v":455},{"p":"D","g":"HFD","i":4,"v":425},{"p":"D","g":"HFD","i":5,"v":395},{"p":"D","g":"HFD","i":6,"v":465},{"p":"D","g":"HFD","i":7,"v":420},{"p":"D","g":"HFD","i":8,"v":445},{"p":"D","g":"HFD","i":9,"v":405},{"p":"D","g":"HFD","i":10,"v":460},
{"p":"D","g":"BEH","i":1,"v":295},{"p":"D","g":"BEH","i":2,"v":280},{"p":"D","g":"BEH","i":3,"v":320},{"p":"D","g":"BEH","i":4,"v":290},{"p":"D","g":"BEH","i":5,"v":268},{"p":"D","g":"BEH","i":6,"v":325},{"p":"D","g":"BEH","i":7,"v":285},{"p":"D","g":"BEH","i":8,"v":310},{"p":"D","g":"BEH","i":9,"v":275},{"p":"D","g":"BEH","i":10,"v":322},
{"p":"D","g":"BEM","i":1,"v":300},{"p":"D","g":"BEM","i":2,"v":288},{"p":"D","g":"BEM","i":3,"v":318},{"p":"D","g":"BEM","i":4,"v":295},{"p":"D","g":"BEM","i":5,"v":275},{"p":"D","g":"BEM","i":6,"v":325},{"p":"D","g":"BEM","i":7,"v":292},{"p":"D","g":"BEM","i":8,"v":310},{"p":"D","g":"BEM","i":9,"v":282},{"p":"D","g":"BEM","i":10,"v":315},
{"p":"D","g":"BEL","i":1,"v":310},{"p":"D","g":"BEL","i":2,"v":298},{"p":"D","g":"BEL","i":3,"v":328},{"p":"D","g":"BEL","i":4,"v":305},{"p":"D","g":"BEL","i":5,"v":290},{"p":"D","g":"BEL","i":6,"v":330},{"p":"D","g":"BEL","i":7,"v":312},{"p":"D","g":"BEL","i":8,"v":320},{"p":"D","g":"BEL","i":9,"v":295},{"p":"D","g":"BEL","i":10,"v":325},
{"p":"D","g":"FF","i":1,"v":312},{"p":"D","g":"FF","i":2,"v":305},{"p":"D","g":"FF","i":3,"v":322},{"p":"D","g":"FF","i":4,"v":308},{"p":"D","g":"FF","i":5,"v":297},{"p":"D","g":"FF","i":6,"v":325},{"p":"D","g":"FF","i":7,"v":303},{"p":"D","g":"FF","i":8,"v":318},{"p":"D","g":"FF","i":9,"v":300},{"p":"D","g":"FF","i":10,"v":330},
{"p":"E","g":"Control","i":1,"v":90},{"p":"E","g":"Control","i":2,"v":82},{"p":"E","g":"Control","i":3,"v":98},{"p":"E","g":"Control","i":4,"v":86},{"p":"E","g":"Control","i":5,"v":75},{"p":"E","g":"Control","i":6,"v":102},{"p":"E","g":"Control","i":7,"v":84},{"p":"E","g":"Control","i":8,"v":95},{"p":"E","g":"Control","i":9,"v":80},{"p":"E","g":"Control","i":10,"v":91},
{"p":"E","g":"HFD","i":1,"v":85},{"p":"E","g":"HFD","i":2,"v":78},{"p":"E","g":"HFD","i":3,"v":95},{"p":"E","g":"HFD","i":4,"v":82},{"p":"E","g":"HFD","i":5,"v":73},{"p":"E","g":"HFD","i":6,"v":100},{"p":"E","g":"HFD","i":7,"v":80},{"p":"E","g":"HFD","i":8,"v":90},{"p":"E","g":"HFD","i":9,"v":76},{"p":"E","g":"HFD","i":10,"v":91},
{"p":"E","g":"HFD-BEH","i":1,"v":175},{"p":"E","g":"HFD-BEH","i":2,"v":165},{"p":"E","g":"HFD-BEH","i":3,"v":188},{"p":"E","g":"HFD-BEH","i":4,"v":172},{"p":"E","g":"HFD-BEH","i":5,"v":160},{"p":"E","g":"HFD-BEH","i":6,"v":190},{"p":"E","g":"HFD-BEH","i":7,"v":170},{"p":"E","g":"HFD-BEH","i":8,"v":182},{"p":"E","g":"HFD-BEH","i":9,"v":163},{"p":"E","g":"HFD-BEH","i":10,"v":191},
{"p":"E","g":"HFD-BEM","i":1,"v":110},{"p":"E","g":"HFD-BEM","i":2,"v":104},{"p":"E","g":"HFD-BEM","i":3,"v":118},{"p":"E","g":"HFD-BEM","i":4,"v":108},{"p":"E","g":"HFD-BEM","i":5,"v":100},{"p":"E","g":"HFD-BEM","i":6,"v":120},{"p":"E","g":"HFD-BEM","i":7,"v":106},{"p":"E","g":"HFD-BEM","i":8,"v":114},{"p":"E","g":"HFD-BEM","i":9,"v":102},{"p":"E","g":"HFD-BEM","i":10,"v":118},
{"p":"E","g":"HFD-BEL","i":1,"v":105},{"p":"E","g":"HFD-BEL","i":2,"v":100},{"p":"E","g":"HFD-BEL","i":3,"v":112},{"p":"E","g":"HFD-BEL","i":4,"v":103},{"p":"E","g":"HFD-BEL","i":5,"v":97},{"p":"E","g":"HFD-BEL","i":6,"v":115},{"p":"E","g":"HFD-BEL","i":7,"v":101},{"p":"E","g":"HFD-BEL","i":8,"v":109},{"p":"E","g":"HFD-BEL","i":9,"v":98},{"p":"E","g":"HFD-BEL","i":10,"v":110},
{"p":"E","g":"HFD-FF","i":1,"v":96},{"p":"E","g":"HFD-FF","i":2,"v":91},{"p":"E","g":"HFD-FF","i":3,"v":102},{"p":"E","g":"HFD-FF","i":4,"v":94},{"p":"E","g":"HFD-FF","i":5,"v":88},{"p":"E","g":"HFD-FF","i":6,"v":104},{"p":"E","g":"HFD-FF","i":7,"v":93},{"p":"E","g":"HFD-FF","i":8,"v":99},{"p":"E","g":"HFD-FF","i":9,"v":90},{"p":"E","g":"HFD-FF","i":10,"v":99},
{"p":"F","g":"Control","i":1,"v":76},{"p":"F","g":"Control","i":2,"v":73},{"p":"F","g":"Control","i":3,"v":80},{"p":"F","g":"Control","i":4,"v":75},{"p":"F","g":"Control","i":5,"v":70},{"p":"F","g":"Control","i":6,"v":81},{"p":"F","g":"Control","i":7,"v":74},{"p":"F","g":"Control","i":8,"v":78},{"p":"F","g":"Control","i":9,"v":72},{"p":"F","g":"Control","i":10,"v":76},
{"p":"F","g":"HFD","i":1,"v":80},{"p":"F","g":"HFD","i":2,"v":78},{"p":"F","g":"HFD","i":3,"v":83},{"p":"F","g":"HFD","i":4,"v":79},{"p":"F","g":"HFD","i":5,"v":76},{"p":"F","g":"HFD","i":6,"v":84},{"p":"F","g":"HFD","i":7,"v":79},{"p":"F","g":"HFD","i":8,"v":82},{"p":"F","g":"HFD","i":9,"v":77},{"p":"F","g":"HFD","i":10,"v":85},
{"p":"F","g":"HFD-BEH","i":1,"v":88},{"p":"F","g":"HFD-BEH","i":2,"v":85},{"p":"F","g":"HFD-BEH","i":3,"v":91},{"p":"F","g":"HFD-BEH","i":4,"v":87},{"p":"F","g":"HFD-BEH","i":5,"v":84},{"p":"F","g":"HFD-BEH","i":6,"v":93},{"p":"F","g":"HFD-BEH","i":7,"v":86},{"p":"F","g":"HFD-BEH","i":8,"v":90},{"p":"F","g":"HFD-BEH","i":9,"v":85},{"p":"F","g":"HFD-BEH","i":10,"v":88},
{"p":"F","g":"HFD-BEM","i":1,"v":87},{"p":"F","g":"HFD-BEM","i":2,"v":85},{"p":"F","g":"HFD-BEM","i":3,"v":91},{"p":"F","g":"HFD-BEM","i":4,"v":86},{"p":"F","g":"HFD-BEM","i":5,"v":83},{"p":"F","g":"HFD-BEM","i":6,"v":92},{"p":"F","g":"HFD-BEM","i":7,"v":85},{"p":"F","g":"HFD-BEM","i":8,"v":90},{"p":"F","g":"HFD-BEM","i":9,"v":84},{"p":"F","g":"HFD-BEM","i":10,"v":91},
{"p":"F","g":"HFD-BEL","i":1,"v":86},{"p":"F","g":"HFD-BEL","i":2,"v":83},{"p":"F","g":"HFD-BEL","i":3,"v":90},{"p":"F","g":"HFD-BEL","i":4,"v":85},{"p":"F","g":"HFD-BEL","i":5,"v":82},{"p":"F","g":"HFD-BEL","i":6,"v":91},{"p":"F","g":"HFD-BEL","i":7,"v":84},{"p":"F","g":"HFD-BEL","i":8,"v":88},{"p":"F","g":"HFD-BEL","i":9,"v":83},{"p":"F","g":"HFD-BEL","i":10,"v":88},
{"p":"F","g":"HFD-FF","i":1,"v":79},{"p":"F","g":"HFD-FF","i":2,"v":76},{"p":"F","g":"HFD-FF","i":3,"v":82},{"p":"F","g":"HFD-FF","i":4,"v":78},{"p":"F","g":"HFD-FF","i":5,"v":74},{"p":"F","g":"HFD-FF","i":6,"v":83},{"p":"F","g":"HFD-FF","i":7,"v":77},{"p":"F","g":"HFD-FF","i":8,"v":81},{"p":"F","g":"HFD-FF","i":9,"v":75},{"p":"F","g":"HFD-FF","i":10,"v":82},
{"p":"G","g":"Control","i":1,"v":0.76},{"p":"G","g":"Control","i":2,"v":0.68},{"p":"G","g":"Control","i":3,"v":0.84},{"p":"G","g":"Control","i":4,"v":0.73},{"p":"G","g":"Control","i":5,"v":0.62},{"p":"G","g":"Control","i":6,"v":0.86},{"p":"G","g":"Control","i":7,"v":0.70},{"p":"G","g":"Control","i":8,"v":0.80},{"p":"G","g":"Control","i":9,"v":0.65},{"p":"G","g":"Control","i":10,"v":0.84},
{"p":"G","g":"HFD","i":1,"v":1.27},{"p":"G","g":"HFD","i":2,"v":1.22},{"p":"G","g":"HFD","i":3,"v":1.32},{"p":"G","g":"HFD","i":4,"v":1.25},{"p":"G","g":"HFD","i":5,"v":1.20},{"p":"G","g":"HFD","i":6,"v":1.34},{"p":"G","g":"HFD","i":7,"v":1.24},{"p":"G","g":"HFD","i":8,"v":1.30},{"p":"G","g":"HFD","i":9,"v":1.21},{"p":"G","g":"HFD","i":10,"v":1.31},
{"p":"G","g":"HFD-BEH","i":1,"v":0.50},{"p":"G","g":"HFD-BEH","i":2,"v":0.47},{"p":"G","g":"HFD-BEH","i":3,"v":0.53},{"p":"G","g":"HFD-BEH","i":4,"v":0.49},{"p":"G","g":"HFD-BEH","i":5,"v":0.45},{"p":"G","g":"HFD-BEH","i":6,"v":0.55},{"p":"G","g":"HFD-BEH","i":7,"v":0.48},{"p":"G","g":"HFD-BEH","i":8,"v":0.52},{"p":"G","g":"HFD-BEH","i":9,"v":0.46},{"p":"G","g":"HFD-BEH","i":10,"v":0.50},
{"p":"G","g":"HFD-BEM","i":1,"v":0.67},{"p":"G","g":"HFD-BEM","i":2,"v":0.62},{"p":"G","g":"HFD-BEM","i":3,"v":0.73},{"p":"G","g":"HFD-BEM","i":4,"v":0.65},{"p":"G","g":"HFD-BEM","i":5,"v":0.60},{"p":"G","g":"HFD-BEM","i":6,"v":0.76},{"p":"G","g":"HFD-BEM","i":7,"v":0.64},{"p":"G","g":"HFD-BEM","i":8,"v":0.70},{"p":"G","g":"HFD-BEM","i":9,"v":0.61},{"p":"G","g":"HFD-BEM","i":10,"v":0.69},
{"p":"G","g":"HFD-BEL","i":1,"v":0.95},{"p":"G","g":"HFD-BEL","i":2,"v":0.86},{"p":"G","g":"HFD-BEL","i":3,"v":1.05},{"p":"G","g":"HFD-BEL","i":4,"v":0.92},{"p":"G","g":"HFD-BEL","i":5,"v":0.82},{"p":"G","g":"HFD-BEL","i":6,"v":1.10},{"p":"G","g":"HFD-BEL","i":7,"v":0.88},{"p":"G","g":"HFD-BEL","i":8,"v":1.00},{"p":"G","g":"HFD-BEL","i":9,"v":0.84},{"p":"G","g":"HFD-BEL","i":10,"v":0.98},
{"p":"G","g":"HFD-FF","i":1,"v":0.95},{"p":"G","g":"HFD-FF","i":2,"v":0.88},{"p":"G","g":"HFD-FF","i":3,"v":1.03},{"p":"G","g":"HFD-FF","i":4,"v":0.92},{"p":"G","g":"HFD-FF","i":5,"v":0.82},{"p":"G","g":"HFD-FF","i":6,"v":1.05},{"p":"G","g":"HFD-FF","i":7,"v":0.90},{"p":"G","g":"HFD-FF","i":8,"v":0.99},{"p":"G","g":"HFD-FF","i":9,"v":0.85},{"p":"G","g":"HFD-FF","i":10,"v":1.01},
{"p":"H","g":"Control","i":1,"v":68},{"p":"H","g":"Control","i":2,"v":62},{"p":"H","g":"Control","i":3,"v":75},{"p":"H","g":"Control","i":4,"v":66},{"p":"H","g":"Control","i":5,"v":57},{"p":"H","g":"Control","i":6,"v":77},{"p":"H","g":"Control","i":7,"v":64},{"p":"H","g":"Control","i":8,"v":72},{"p":"H","g":"Control","i":9,"v":60},{"p":"H","g":"Control","i":10,"v":71},
{"p":"H","g":"HFD","i":1,"v":70},{"p":"H","g":"HFD","i":2,"v":65},{"p":"H","g":"HFD","i":3,"v":78},{"p":"H","g":"HFD","i":4,"v":68},{"p":"H","g":"HFD","i":5,"v":62},{"p":"H","g":"HFD","i":6,"v":80},{"p":"H","g":"HFD","i":7,"v":67},{"p":"H","g":"HFD","i":8,"v":74},{"p":"H","g":"HFD","i":9,"v":64},{"p":"H","g":"HFD","i":10,"v":72},
{"p":"H","g":"HFD-BEH","i":1,"v":118},{"p":"H","g":"HFD-BEH","i":2,"v":112},{"p":"H","g":"HFD-BEH","i":3,"v":126},{"p":"H","g":"HFD-BEH","i":4,"v":116},{"p":"H","g":"HFD-BEH","i":5,"v":107},{"p":"H","g":"HFD-BEH","i":6,"v":128},{"p":"H","g":"HFD-BEH","i":7,"v":114},{"p":"H","g":"HFD-BEH","i":8,"v":122},{"p":"H","g":"HFD-BEH","i":9,"v":110},{"p":"H","g":"HFD-BEH","i":10,"v":127},
{"p":"H","g":"HFD-BEM","i":1,"v":114},{"p":"H","g":"HFD-BEM","i":2,"v":105},{"p":"H","g":"HFD-BEM","i":3,"v":120},{"p":"H","g":"HFD-BEM","i":4,"v":112},{"p":"H","g":"HFD-BEM","i":5,"v":95},{"p":"H","g":"HFD-BEM","i":6,"v":122},{"p":"H","g":"HFD-BEM","i":7,"v":108},{"p":"H","g":"HFD-BEM","i":8,"v":118},{"p":"H","g":"HFD-BEM","i":9,"v":102},{"p":"H","g":"HFD-BEM","i":10,"v":124},
{"p":"H","g":"HFD-BEL","i":1,"v":98},{"p":"H","g":"HFD-BEL","i":2,"v":90},{"p":"H","g":"HFD-BEL","i":3,"v":108},{"p":"H","g":"HFD-BEL","i":4,"v":95},{"p":"H","g":"HFD-BEL","i":5,"v":85},{"p":"H","g":"HFD-BEL","i":6,"v":115},{"p":"H","g":"HFD-BEL","i":7,"v":92},{"p":"H","g":"HFD-BEL","i":8,"v":104},{"p":"H","g":"HFD-BEL","i":9,"v":88},{"p":"H","g":"HFD-BEL","i":10,"v":105},
{"p":"H","g":"HFD-FF","i":1,"v":75},{"p":"H","g":"HFD-FF","i":2,"v":70},{"p":"H","g":"HFD-FF","i":3,"v":81},{"p":"H","g":"HFD-FF","i":4,"v":73},{"p":"H","g":"HFD-FF","i":5,"v":64},{"p":"H","g":"HFD-FF","i":6,"v":83},{"p":"H","g":"HFD-FF","i":7,"v":72},{"p":"H","g":"HFD-FF","i":8,"v":78},{"p":"H","g":"HFD-FF","i":9,"v":68},{"p":"H","g":"HFD-FF","i":10,"v":82}
],
"brk": [
{"p":"A","x":0,"x2":0,"y":3.59,"y2":3.71},{"p":"A","x":0,"x2":0.95,"y":3.71,"y2":3.71},{"p":"A","x":0.95,"x2":0.95,"y":3.71,"y2":3.59},
{"p":"A","x":1.05,"x2":1.05,"y":3.59,"y2":3.71},{"p":"A","x":1.05,"x2":3.5,"y":3.71,"y2":3.71},{"p":"A","x":3.5,"x2":3.5,"y":3.71,"y2":3.56},
{"p":"A","x":2,"x2":4.95,"y":3.56,"y2":3.56},
{"p":"B","x":0,"x2":0,"y":30.8,"y2":32},{"p":"B","x":0,"x2":0.95,"y":32,"y2":32},{"p":"B","x":0.95,"x2":0.95,"y":32,"y2":30.8},
{"p":"B","x":1.05,"x2":1.05,"y":30.8,"y2":32},{"p":"B","x":1.05,"x2":2.57,"y":32,"y2":32},{"p":"B","x":2.57,"x2":2.57,"y":32,"y2":30.6},
{"p":"B","x":2,"x2":3.15,"y":30.6,"y2":30.6},
{"p":"B","x":1.2,"x2":1.2,"y":35.3,"y2":36.7},{"p":"B","x":1.2,"x2":4.45,"y":36.7,"y2":36.7},{"p":"B","x":4.45,"x2":4.45,"y":36.7,"y2":34.9},
{"p":"B","x":4,"x2":5.15,"y":34.9,"y2":34.9},
{"p":"C","x":0,"x2":0,"y":668,"y2":691},{"p":"C","x":0,"x2":0.95,"y":691,"y2":691},{"p":"C","x":0.95,"x2":0.95,"y":691,"y2":668},
{"p":"C","x":1.05,"x2":1.05,"y":668,"y2":691},{"p":"C","x":1.05,"x2":3.52,"y":691,"y2":691},{"p":"C","x":3.52,"x2":3.52,"y":691,"y2":659},
{"p":"C","x":2.15,"x2":4.9,"y":659,"y2":659},
{"p":"D","x":0,"x2":0,"y":495,"y2":515},{"p":"D","x":0,"x2":0.95,"y":515,"y2":515},{"p":"D","x":0.95,"x2":0.95,"y":515,"y2":495},
{"p":"D","x":1.05,"x2":1.05,"y":495,"y2":515},{"p":"D","x":1.05,"x2":3.5,"y":515,"y2":515},{"p":"D","x":3.5,"x2":3.5,"y":515,"y2":489},
{"p":"D","x":2.15,"x2":5,"y":489,"y2":489},
{"p":"E","x":0.07,"x2":1.09,"y":189.4,"y2":189.4},
{"p":"E","x":0.5,"x2":0.5,"y":189.4,"y2":201},{"p":"E","x":0.5,"x2":1.93,"y":201,"y2":201},{"p":"E","x":1.93,"x2":1.93,"y":201,"y2":194},
{"p":"E","x":2.07,"x2":2.07,"y":194,"y2":201},{"p":"E","x":2.07,"x2":5,"y":201,"y2":201},{"p":"E","x":5,"x2":5,"y":201,"y2":193},
{"p":"E","x":0.52,"x2":0.52,"y":229,"y2":238},{"p":"E","x":0.52,"x2":3.53,"y":238,"y2":238},{"p":"E","x":3.53,"x2":3.53,"y":238,"y2":226},
{"p":"E","x":2.9,"x2":4.15,"y":226,"y2":226},
{"p":"F","x":-0.12,"x2":1.03,"y":101.7,"y2":101.7},
{"p":"F","x":0.4,"x2":0.4,"y":101.7,"y2":106.8},{"p":"F","x":0.4,"x2":2.94,"y":106.8,"y2":106.8},{"p":"F","x":2.94,"x2":2.94,"y":106.8,"y2":101.7},
{"p":"F","x":1.94,"x2":3.91,"y":101.7,"y2":101.7},
{"p":"G","x":0,"x2":0,"y":1.41,"y2":1.48},{"p":"G","x":0,"x2":0.95,"y":1.48,"y2":1.48},{"p":"G","x":0.95,"x2":0.95,"y":1.48,"y2":1.41},
{"p":"G","x":1.05,"x2":1.05,"y":1.41,"y2":1.48},{"p":"G","x":1.05,"x2":2.43,"y":1.48,"y2":1.48},{"p":"G","x":2.43,"x2":2.43,"y":1.48,"y2":1.387},
{"p":"G","x":1.93,"x2":2.94,"y":1.387,"y2":1.387},
{"p":"G","x":1.1,"x2":1.1,"y":1.626,"y2":1.69},{"p":"G","x":1.1,"x2":4.5,"y":1.69,"y2":1.69},{"p":"G","x":4.5,"x2":4.5,"y":1.69,"y2":1.6},
{"p":"G","x":4.03,"x2":4.93,"y":1.6,"y2":1.6},
{"p":"G","x":1.96,"x2":1.96,"y":1.24,"y2":1.30},{"p":"G","x":1.96,"x2":5,"y":1.30,"y2":1.30},{"p":"G","x":5,"x2":5,"y":1.30,"y2":1.24},
{"p":"G","x":2.94,"x2":2.94,"y":1.10,"y2":1.16},{"p":"G","x":2.94,"x2":5,"y":1.16,"y2":1.16},{"p":"G","x":5,"x2":5,"y":1.16,"y2":1.10},
{"p":"H","x":0.13,"x2":1.3,"y":143.5,"y2":143.5},
{"p":"H","x":0.65,"x2":0.65,"y":143.5,"y2":151.7},{"p":"H","x":0.65,"x2":3,"y":151.7,"y2":151.7},{"p":"H","x":3,"x2":3,"y":151.7,"y2":143.5},
{"p":"H","x":2,"x2":4,"y":143.5,"y2":143.5}
],
"txt": [
{"p":"A","x":0.5,"y":3.71,"t":"***"},{"p":"A","x":2.27,"y":3.71,"t":"***"},
{"p":"B","x":0.5,"y":32,"t":"***"},{"p":"B","x":1.85,"y":32,"t":"***"},{"p":"B","x":2.8,"y":36.7,"t":"**"},
{"p":"C","x":0.5,"y":691,"t":"***"},{"p":"C","x":2.3,"y":691,"t":"***"},
{"p":"D","x":0.5,"y":515,"t":"***"},{"p":"D","x":2.25,"y":515,"t":"***"},
{"p":"E","x":1.22,"y":201,"t":"***"},{"p":"E","x":3.53,"y":201,"t":"***"},{"p":"E","x":2.0,"y":238,"t":"*"},
{"p":"F","x":1.67,"y":106.8,"t":"**"},
{"p":"G","x":0.5,"y":1.48,"t":"***"},{"p":"G","x":1.72,"y":1.48,"t":"***"},{"p":"G","x":2.8,"y":1.69,"t":"**"},{"p":"G","x":3.6,"y":1.30,"t":"***"},{"p":"G","x":4.03,"y":1.16,"t":"**"},
{"p":"H","x":1.8,"y":151.7,"t":"***"}
]
},
"config": {
 "font": "Liberation Sans",
 "view": {"stroke": null},
 "title": {"fontSize": 22, "fontWeight": "normal", "anchor": "start", "frame": "bounds", "offset": -8, "dx": -7, "color": "#000000", "font": "Liberation Sans"},
 "axis": {"domainColor": "#333333", "domainWidth": 1.5, "tickColor": "#333333", "tickWidth": 1.2, "tickSize": 4, "labelColor": "#000000", "titleColor": "#000000", "labelFontWeight": "bold", "titleFontWeight": "bold", "grid": false, "labelFont": "Liberation Sans", "titleFont": "Liberation Sans"},
 "axisY": {"labelFontSize": 8, "titleFontSize": 12, "labelPadding": 1, "titlePadding": 2, "labelOverlap": false, "labelBound": false, "labelFlush": false},
 "axisX": {"labelAngle": -45, "labelFontSize": 11.5, "labelPadding": 1, "title": null}
}
}
